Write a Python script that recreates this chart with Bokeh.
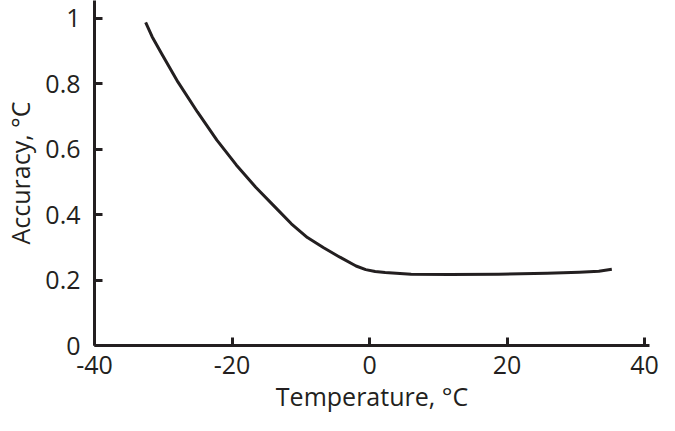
from bokeh.plotting import figure
from bokeh.models import Range1d, FixedTicker
from bokeh.embed import file_html
from bokeh.resources import INLINE

temperature = [-32.56, -31.62, -30.21, -27.85, -25.03, -22.20, -19.38, -16.55, -13.73,
               -11.37, -9.03, -6.67, -4.31, -1.96, -0.55, 0.82, 2.27, 6.05,
               11.69, 18.76, 25.82, 30.52, 33.35, 35.24]
accuracy = [0.988, 0.944, 0.891, 0.805, 0.714, 0.628, 0.552, 0.484, 0.423,
            0.372, 0.330, 0.299, 0.270, 0.243, 0.232, 0.226, 0.223, 0.218,
            0.217, 0.218, 0.221, 0.224, 0.227, 0.233]
x_ticks = [-40, -20, 0, 20, 40]
y_ticks = [0, 0.2, 0.4, 0.6, 0.8, 1.0]
x_title = "Temperature, °C"
y_title = "Accuracy, °C"

INK = "#231f20"
FONT = "Open Sans"
FS = "25px"

p = figure(width=659, height=415, output_backend="svg", toolbar_location=None,
           x_range=Range1d(-40, 40.72), y_range=Range1d(0, 1.0547),
           min_border_left=86, min_border_right=10, min_border_top=0, min_border_bottom=68)
p.outline_line_color = None
p.grid.grid_line_color = None
p.background_fill_color = "white"

p.line(temperature, accuracy, line_color=INK, line_width=3, line_join="round")

for ax in (p.xaxis[0], p.yaxis[0]):
    ax.axis_line_color = INK
    ax.axis_line_width = 3
    ax.major_tick_line_color = INK
    ax.major_tick_line_width = 3
    ax.major_tick_in = 8
    ax.major_tick_out = 0
    ax.minor_tick_line_color = None
    ax.major_label_text_font = FONT
    ax.major_label_text_font_size = FS
    ax.major_label_text_color = INK
    ax.axis_label_text_font = FONT
    ax.axis_label_text_font_size = FS
    ax.axis_label_text_color = INK
    ax.axis_label_text_font_style = "normal"

p.xaxis.ticker = FixedTicker(ticks=x_ticks)
p.yaxis.ticker = FixedTicker(ticks=y_ticks)
p.xaxis.major_label_overrides = {-40: "-40", -20: "-20", 0: "0", 20: "20", 40: "40"}
p.yaxis.major_label_overrides = {0: "0", 0.2: "0.2", 0.4: "0.4", 0.6: "0.6", 0.8: "0.8", 1.0: "1"}
p.xaxis.axis_label = x_title
p.yaxis.axis_label = y_title
p.xaxis.major_label_standoff = 10
p.xaxis.axis_label_standoff = 2
p.yaxis.major_label_standoff = 14
p.yaxis.axis_label_standoff = 5

open("out.html", "w").write(file_html(p, INLINE))
